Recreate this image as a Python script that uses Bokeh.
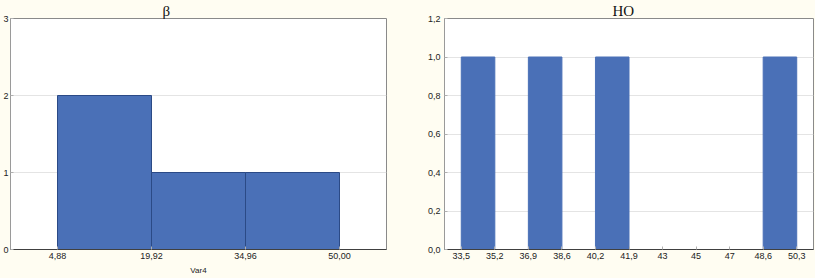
from bokeh.plotting import figure
from bokeh.layouts import row
from bokeh.models import ColumnDataSource, FixedTicker, CustomJSTickFormatter, Range1d
from bokeh.embed import file_html
from bokeh.resources import INLINE

# ---- data ----
beta_title = "β"
beta_edges = [4.88, 19.92, 34.96, 50.00]
beta_counts = [2, 1, 1]
beta_tick_labels = ["4,88", "19,92", "34,96", "50,00"]
beta_y_ticks = [0, 1, 2, 3]
beta_xlabel = "Var4"

ho_title = "HO"
ho_edges = [33.5, 35.18, 36.86, 38.54, 40.22, 41.90, 43.58, 45.26, 46.94, 48.62, 50.30]
ho_counts = [1, 0, 1, 0, 1, 0, 0, 0, 0, 1]
ho_tick_labels = ["33,5", "35,2", "36,9", "38,6", "40,2", "41,9", "43", "45", "47", "48,6", "50,3"]
ho_y_ticks = [0, 0.2, 0.4, 0.6, 0.8, 1.0, 1.2]

BG = "#FFFDF2"
BAR = "#4A70B7"
BAR_LINE = "#2B4A86"
FONT = "Liberation Sans"
SERIF = "Liberation Serif"


def style(p, ticks, labels, yticks, yfmt):
    p.xgrid.visible = False
    p.ygrid.grid_line_color = "#e4e4e4"
    p.outline_line_color = "#8a8a8a"
    p.xaxis.ticker = FixedTicker(ticks=ticks)
    p.xaxis.formatter = CustomJSTickFormatter(args=dict(labels=labels), code="return labels[index];")
    p.yaxis.ticker = FixedTicker(ticks=yticks)
    p.yaxis.formatter = CustomJSTickFormatter(code=yfmt)
    for ax in (p.xaxis[0], p.yaxis[0]):
        ax.major_label_text_font = FONT
        ax.major_label_text_font_size = "9px"
        ax.major_label_text_color = "#222222"
        ax.major_tick_in = 3
        ax.major_tick_out = 0
        ax.minor_tick_line_color = None
        ax.major_tick_line_color = "#b0b0b0"
        ax.major_label_standoff = 4
    p.xaxis.axis_line_color = "#404040"
    p.yaxis.axis_line_color = "#9a9a9a"
    p.title.text_font = SERIF
    p.title.text_font_size = "15px"
    p.title.text_font_style = "normal"
    p.title.text_color = "#111111"
    p.title.standoff = 0


# ---- left: beta ----
half = (beta_edges[1] - beta_edges[0]) / 2
p1 = figure(width=400, height=278, output_backend="svg", toolbar_location=None,
            x_range=Range1d(beta_edges[0] - half, beta_edges[-1] + half),
            y_range=Range1d(beta_y_ticks[0], beta_y_ticks[-1]),
            background_fill_color="white", border_fill_color=BG,
            min_border_left=6, min_border_right=14, min_border_bottom=29, min_border_top=0,
            title=beta_title)
src1 = ColumnDataSource(dict(left=beta_edges[:-1], right=beta_edges[1:], top=beta_counts,
                             bottom=[0] * len(beta_counts)))
p1.quad(left="left", right="right", top="top", bottom="bottom", source=src1,
        fill_color=BAR, line_color=BAR_LINE, line_width=1)
style(p1, beta_edges, beta_tick_labels, beta_y_ticks, "return tick.toFixed(0);")
p1.yaxis.major_label_standoff = 2
p1.xaxis.major_label_standoff = 3
p1.title.align = "left"
p1.title.offset = 152
p1.xaxis.axis_label = beta_xlabel
p1.xaxis.axis_label_text_font = FONT
p1.xaxis.axis_label_text_font_size = "8px"
p1.xaxis.axis_label_text_font_style = "normal"
p1.xaxis.axis_label_text_color = "#222222"
p1.xaxis.axis_label_standoff = 4

# ---- right: HO ----
hw = (ho_edges[1] - ho_edges[0]) / 2
p2 = figure(width=415, height=278, output_backend="svg", toolbar_location=None,
            x_range=Range1d(ho_edges[0] - hw, ho_edges[-1] + hw),
            y_range=Range1d(ho_y_ticks[0], ho_y_ticks[-1]),
            background_fill_color="white", border_fill_color=BG,
            min_border_left=44, min_border_right=2, min_border_bottom=29, min_border_top=0,
            title=ho_title)
src2 = ColumnDataSource(dict(left=ho_edges[:-1], right=ho_edges[1:], top=ho_counts,
                             bottom=[0] * len(ho_counts)))
p2.quad(left="left", right="right", top="top", bottom="bottom", source=src2,
        fill_color=BAR, line_color=BAR, line_width=1)
style(p2, ho_edges, ho_tick_labels, ho_y_ticks, "return tick.toFixed(1).replace('.', ',');")
p2.xaxis.major_label_standoff = 3
p2.title.align = "left"
p2.title.offset = 168

layout = row(p1, p2, spacing=0)
layout.styles = {"background-color": BG}
open("out.html", "w").write(file_html(layout, INLINE))
